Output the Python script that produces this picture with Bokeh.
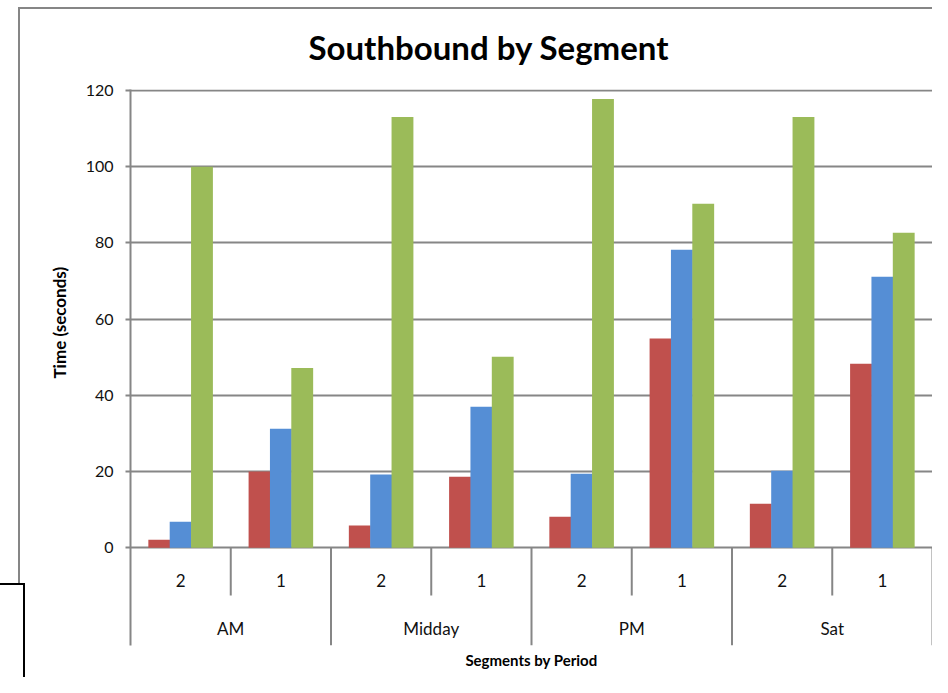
from bokeh.plotting import figure
from bokeh.models import (FactorRange, ColumnDataSource, FixedTicker, Title,
                          Range1d, InlineStyleSheet)
from bokeh.transform import dodge
from bokeh.core.properties import value
from bokeh.embed import file_html
from bokeh.resources import INLINE

# ---- data ----
periods = ["AM", "Midday", "PM", "Sat"]
segments = ["2", "1"]
series1_red = [2.1, 20.0, 5.8, 18.6, 8.1, 54.9, 11.5, 48.3]
series2_blue = [6.8, 31.2, 19.2, 37.0, 19.4, 78.2, 20.2, 71.1]
series3_green = [100.0, 47.2, 113.1, 50.1, 117.8, 90.3, 113.1, 82.7]
y_ticks = [0, 20, 40, 60, 80, 100, 120]
title_text = "Southbound by Segment"
x_title = "Segments by Period"
y_title = "Time (seconds)"

colors = ["#C0504D", "#558ED5", "#9BBB59"]
grid_gray = "#868686"
FONT = "Lato"

factors = [(p, s) for p in periods for s in segments]
src = ColumnDataSource(dict(x=factors, r=series1_red, b=series2_blue, g=series3_green))

x_range = FactorRange(factors=factors, factor_padding=0, subgroup_padding=0,
                      group_padding=0, range_padding=0)
y_range = Range1d(-25.7, 120.3)

p = figure(width=932, height=677, x_range=x_range, y_range=y_range,
           output_backend="svg", toolbar_location=None,
           min_border_left=130, min_border_right=0, min_border_top=89,
           min_border_bottom=32)
p.outline_line_color = None
p.background_fill_color = "white"
p.border_fill_color = "white"
p.xaxis.visible = False
p.xgrid.grid_line_color = None

# chart title
p.title.text = title_text
p.title.align = "left"
p.title.offset = 178
p.title.text_font = FONT
p.title.text_font_style = "bold"
p.title.text_font_size = "33px"
p.title.text_color = "black"
p.title.standoff = 45

ya = p.yaxis[0]
ya.ticker = FixedTicker(ticks=y_ticks)
ya.axis_line_color = grid_gray
ya.axis_line_width = 2
ya.major_tick_line_color = grid_gray
ya.major_tick_line_width = 2
ya.major_tick_out = 5
ya.major_tick_in = 0
ya.minor_tick_line_color = None
ya.major_label_standoff = 12
ya.major_label_text_font = FONT
ya.major_label_text_font_size = "16px"
ya.major_label_text_color = "#111111"
p.ygrid.ticker = FixedTicker(ticks=y_ticks)
p.ygrid.grid_line_color = grid_gray
p.ygrid.grid_line_width = 2

# y axis title, placed beside the 0-120 part of the value axis
p.add_layout(Title(text=y_title, align="left", offset=267, text_font=FONT,
                   text_font_style="bold", text_font_size="17px",
                   text_color="black", standoff=26), "left")

# bars
bw = 0.218
off = 0.213
for col, c, o in [("r", colors[0], -off), ("b", colors[1], 0.0), ("g", colors[2], off)]:
    p.vbar(x=dodge("x", o, range=p.x_range), top=col, bottom=0, width=bw,
           source=src, fill_color=c, line_color=None)

# category axis separators
seg_x = [(pp, "1", -0.5) for pp in periods]
grp_x = [(pp, "2", -0.5) for pp in periods[1:]] + [(periods[-1], "1", 0.5)]
sep_src = ColumnDataSource(dict(
    x=seg_x + grp_x,
    y0=[0] * (len(seg_x) + len(grp_x)),
    y1=[-12.6] * len(seg_x) + [-25.7] * len(grp_x)))
p.segment(x0="x", y0="y0", x1="x", y1="y1", source=sep_src,
          line_color=grid_gray, line_width=2)

# category labels
lab_src = ColumnDataSource(dict(x=factors, t=[f[1] for f in factors], y=[-8.7] * len(factors)))
p.text(x="x", y="y", text="t", source=lab_src, text_align="center",
       text_baseline="middle", text_font=value(FONT), text_font_size="17px",
       text_color="#111111")
grp_src = ColumnDataSource(dict(x=periods, t=periods, y=[-21.3] * len(periods)))
p.text(x="x", y="y", text="t", source=grp_src, text_align="center",
       text_baseline="middle", text_font=value(FONT), text_font_size="17px",
       text_color="#111111")

# x axis title
p.add_layout(Title(text=x_title, align="center", text_font=FONT,
                   text_font_style="bold", text_font_size="15px",
                   text_color="black", standoff=6), "below")

# outer chart border and the overlapping frame at the bottom left
p.stylesheets = [InlineStyleSheet(css="""
:host { position: relative; }
:host::before { content: ''; position: absolute; z-index: 5; left: 18px; top: 7px; right: 0; bottom: 0;
  border-top: 2px solid #868686; border-left: 2px solid #868686; pointer-events: none; }
:host::after { content: ''; position: absolute; z-index: 6; left: 0; width: 23px; top: 583px; bottom: 0;
  border-top: 2px solid #000; border-right: 2px solid #000; background: white; pointer-events: none; }
""")]

open("out.html", "w").write(file_html(p, INLINE))
